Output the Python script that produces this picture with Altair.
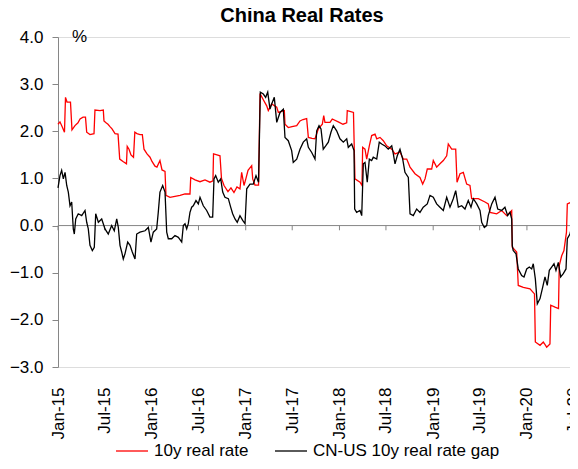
import altair as alt
import pandas as pd

title_text = "China Real Rates"
series_names = ["10y real rate", "CN-US 10y real rate gap"]
series_colors = ["#FF0000", "#000000"]

# (decimal year, %)
real_rate = [
    (2015.000, 2.15), (2015.021, 2.20), (2015.048, 2.08), (2015.069, 1.98), (2015.080, 2.72),
    (2015.096, 2.62), (2015.133, 2.62), (2015.149, 2.03), (2015.181, 2.12), (2015.213, 2.18),
    (2015.235, 2.26), (2015.267, 2.30), (2015.293, 2.30), (2015.306, 1.98), (2015.341, 1.93),
    (2015.384, 1.95), (2015.394, 2.45), (2015.448, 2.44), (2015.483, 2.45), (2015.490, 2.22),
    (2015.512, 2.18), (2015.533, 2.15), (2015.554, 2.10), (2015.576, 2.05), (2015.608, 1.95),
    (2015.640, 1.94), (2015.658, 1.41), (2015.693, 1.36), (2015.730, 1.31), (2015.738, 1.68),
    (2015.757, 1.62), (2015.778, 1.50), (2015.805, 1.45), (2015.819, 1.98), (2015.842, 1.95),
    (2015.874, 1.93), (2015.899, 1.93), (2015.917, 1.62), (2015.949, 1.52), (2015.981, 1.45),
    (2016.002, 1.36), (2016.034, 1.26), (2016.055, 1.24), (2016.087, 1.38), (2016.109, 1.18),
    (2016.141, 1.15), (2016.151, 0.64), (2016.194, 0.60), (2016.247, 0.62), (2016.301, 0.64),
    (2016.354, 0.67), (2016.407, 0.67), (2016.415, 1.02), (2016.461, 0.97), (2016.514, 0.93),
    (2016.567, 0.97), (2016.620, 0.92), (2016.652, 0.95), (2016.658, 1.52), (2016.695, 1.50),
    (2016.727, 1.48), (2016.743, 1.00), (2016.770, 0.85), (2016.812, 0.72), (2016.844, 0.80),
    (2016.876, 0.70), (2016.908, 0.82), (2016.940, 0.78), (2016.958, 1.13), (2016.983, 0.85),
    (2017.004, 1.00), (2017.026, 1.17), (2017.065, 1.27), (2017.076, 0.99), (2017.100, 0.86),
    (2017.138, 0.86), (2017.154, 2.80), (2017.186, 2.68), (2017.225, 2.54), (2017.242, 2.44),
    (2017.278, 2.58), (2017.332, 2.51), (2017.349, 2.40), (2017.413, 2.44), (2017.420, 2.15),
    (2017.455, 2.08), (2017.495, 2.10), (2017.545, 2.12), (2017.580, 2.22), (2017.612, 2.25),
    (2017.651, 2.27), (2017.669, 1.87), (2017.708, 1.85), (2017.740, 1.84), (2017.775, 2.05),
    (2017.818, 2.15), (2017.833, 2.33), (2017.846, 2.19), (2017.900, 2.19), (2017.924, 2.26),
    (2017.988, 2.20), (2018.038, 2.15), (2018.078, 2.18), (2018.084, 2.44), (2018.150, 2.40),
    (2018.166, 0.99), (2018.220, 0.92), (2018.241, 0.85), (2018.248, 1.66), (2018.273, 1.62),
    (2018.291, 1.41), (2018.319, 1.69), (2018.344, 1.91), (2018.380, 1.94), (2018.398, 1.84),
    (2018.433, 1.87), (2018.468, 1.80), (2018.504, 1.69), (2018.558, 1.62), (2018.593, 1.52),
    (2018.646, 1.56), (2018.681, 1.41), (2018.718, 1.41), (2018.753, 1.24), (2018.806, 1.10),
    (2018.859, 1.02), (2018.888, 0.88), (2018.913, 0.99), (2018.937, 1.20), (2018.984, 1.20),
    (2019.001, 1.38), (2019.037, 1.24), (2019.072, 1.31), (2019.108, 1.38), (2019.144, 1.48),
    (2019.161, 1.73), (2019.197, 1.62), (2019.240, 1.62), (2019.254, 0.92), (2019.286, 1.10),
    (2019.321, 1.13), (2019.357, 0.88), (2019.392, 0.85), (2019.410, 0.57), (2019.481, 0.57),
    (2019.552, 0.50), (2019.587, 0.46), (2019.606, 0.28), (2019.677, 0.25), (2019.730, 0.32),
    (2019.784, 0.21), (2019.837, 0.32), (2019.843, -0.46), (2019.890, -0.56), (2019.907, -1.27),
    (2019.961, -1.31), (2020.032, -1.34), (2020.080, -1.45), (2020.089, -2.47), (2020.139, -2.54),
    (2020.174, -2.47), (2020.210, -2.58), (2020.245, -2.51), (2020.253, -1.69), (2020.299, -1.73),
    (2020.336, -1.76), (2020.344, -0.85), (2020.370, -0.64), (2020.394, -0.53), (2020.421, -0.14),
    (2020.430, 0.46), (2020.477, 0.50), (2020.512, 0.57), (2020.533, 0.60),
]

rate_gap = [
    (2015.000, 0.80), (2015.021, 1.06), (2015.039, 1.17), (2015.057, 0.99), (2015.075, 1.13),
    (2015.093, 0.85), (2015.110, 0.71), (2015.128, 0.42), (2015.146, 0.50), (2015.163, -0.07),
    (2015.174, -0.18), (2015.189, 0.14), (2015.216, 0.25), (2015.253, 0.21), (2015.288, 0.32),
    (2015.306, 0.07), (2015.323, -0.07), (2015.341, -0.42), (2015.366, -0.53), (2015.387, -0.46),
    (2015.402, 0.25), (2015.430, 0.07), (2015.466, 0.14), (2015.501, -0.07), (2015.536, -0.18),
    (2015.572, 0.00), (2015.600, -0.11), (2015.626, 0.14), (2015.643, -0.04), (2015.661, -0.42),
    (2015.679, -0.56), (2015.696, -0.71), (2015.714, -0.60), (2015.743, -0.35), (2015.768, -0.42),
    (2015.792, -0.56), (2015.821, -0.71), (2015.839, -0.18), (2015.874, -0.14), (2015.928, -0.11),
    (2015.963, -0.04), (2015.991, -0.35), (2016.016, -0.14), (2016.052, -0.07), (2016.069, 0.28),
    (2016.087, 0.71), (2016.116, 0.85), (2016.141, 0.71), (2016.159, -0.14), (2016.176, -0.28),
    (2016.212, -0.28), (2016.247, -0.21), (2016.283, -0.25), (2016.319, -0.35), (2016.336, 0.00),
    (2016.354, 0.04), (2016.372, -0.07), (2016.389, 0.04), (2016.407, 0.28), (2016.425, 0.39),
    (2016.442, 0.42), (2016.471, 0.53), (2016.496, 0.46), (2016.514, 0.60), (2016.549, 0.42),
    (2016.585, 0.32), (2016.620, 0.18), (2016.649, 0.18), (2016.663, 0.99), (2016.681, 1.06),
    (2016.709, 0.92), (2016.735, 0.99), (2016.756, 0.71), (2016.780, 0.60), (2016.816, 0.57),
    (2016.841, 0.39), (2016.862, 0.25), (2016.887, 0.14), (2016.911, 0.07), (2016.940, 0.21),
    (2016.969, 0.11), (2016.994, 0.04), (2017.012, 0.78), (2017.047, 0.88), (2017.082, 0.88),
    (2017.111, 1.06), (2017.138, 0.92), (2017.157, 2.83), (2017.189, 2.79), (2017.214, 2.72),
    (2017.236, 2.83), (2017.260, 2.47), (2017.278, 2.58), (2017.306, 2.72), (2017.332, 2.19),
    (2017.367, 2.40), (2017.402, 2.47), (2017.420, 1.87), (2017.455, 1.80), (2017.491, 1.59),
    (2017.508, 1.34), (2017.545, 1.41), (2017.580, 1.62), (2017.615, 1.77), (2017.651, 1.84),
    (2017.669, 1.66), (2017.705, 1.55), (2017.740, 1.41), (2017.758, 2.01), (2017.783, 2.12),
    (2017.804, 2.05), (2017.828, 1.62), (2017.854, 1.69), (2017.882, 1.77), (2017.910, 1.98),
    (2017.935, 2.12), (2017.971, 2.01), (2018.006, 1.84), (2018.042, 1.77), (2018.078, 1.84),
    (2018.095, 1.66), (2018.131, 1.73), (2018.156, 1.59), (2018.163, 0.35), (2018.184, 0.28),
    (2018.220, 0.32), (2018.238, 0.21), (2018.255, 1.31), (2018.273, 1.34), (2018.297, 0.92),
    (2018.319, 1.41), (2018.344, 1.38), (2018.361, 1.45), (2018.398, 1.41), (2018.425, 1.77),
    (2018.451, 1.73), (2018.486, 1.69), (2018.521, 1.62), (2018.558, 1.69), (2018.575, 1.52),
    (2018.593, 1.31), (2018.617, 1.48), (2018.646, 1.62), (2018.675, 1.41), (2018.699, 1.13),
    (2018.735, 1.02), (2018.753, 0.25), (2018.788, 0.21), (2018.824, 0.35), (2018.859, 0.28),
    (2018.894, 0.39), (2018.937, 0.46), (2018.966, 0.64), (2019.001, 0.60), (2019.037, 0.46),
    (2019.072, 0.39), (2019.108, 0.32), (2019.144, 0.60), (2019.179, 0.39), (2019.214, 0.57),
    (2019.240, 0.74), (2019.268, 0.39), (2019.304, 0.42), (2019.339, 0.35), (2019.374, 0.53),
    (2019.403, 0.39), (2019.428, 0.57), (2019.464, 0.46), (2019.499, 0.32), (2019.517, 0.07),
    (2019.545, -0.04), (2019.570, 0.00), (2019.587, 0.21), (2019.624, 0.46), (2019.659, 0.60),
    (2019.688, 0.35), (2019.730, 0.32), (2019.765, 0.39), (2019.794, 0.21), (2019.819, 0.28),
    (2019.837, 0.14), (2019.843, -0.42), (2019.853, -0.53), (2019.883, -0.60), (2019.907, -0.92),
    (2019.943, -1.06), (2019.968, -1.09), (2019.997, -0.92), (2020.025, -0.88), (2020.050, -0.92),
    (2020.067, -0.81), (2020.089, -1.13), (2020.110, -1.66), (2020.139, -1.55), (2020.167, -1.31),
    (2020.192, -1.09), (2020.216, -1.27), (2020.238, -0.95), (2020.263, -0.88), (2020.288, -0.81),
    (2020.309, -0.95), (2020.334, -0.78), (2020.359, -1.09), (2020.387, -1.02), (2020.416, -0.92),
    (2020.430, -0.28), (2020.458, -0.18), (2020.487, 0.07), (2020.512, 0.42), (2020.533, 0.60),
]

tick_dates = [
    "2015-01-01", "2015-07-01", "2016-01-01", "2016-07-01", "2017-01-01", "2017-07-01",
    "2018-01-01", "2018-07-01", "2019-01-01", "2019-07-01", "2020-01-01", "2020-07-01",
]
y_ticks = [-3, -2, -1, 0, 1, 2, 3, 4]
x_end = "2020-07-14"

FONT = "Liberation Sans"
AXIS_GREY = "#868686"


def to_stamp(t):
    ts = pd.Timestamp("2015-01-01") + pd.to_timedelta((t - 2015.0) * 365.25, unit="D")
    return ts.strftime("%Y-%m-%dT%H:%M:%S")


rows = []
for name, pts in zip(series_names, [real_rate, rate_gap]):
    for t, v in pts:
        rows.append({"date": to_stamp(t), "value": v, "series": name})
df = pd.DataFrame(rows)

tick_df = pd.DataFrame({"date": [d + "T00:00:00" for d in tick_dates]})
zero_df = pd.DataFrame({"value": [0]})

# the source chart runs slightly past the right edge of the picture
x_scale = alt.Scale(
    domain=[tick_dates[0] + "T00:00:00", x_end + "T00:00:00"], nice=False, range=[0, 519]
)
y_scale = alt.Scale(domain=[y_ticks[0], y_ticks[-1]], nice=False, zero=False)

x_axis = alt.Axis(
    values=[alt.DateTime(year=int(d[:4]), month=int(d[5:7]), date=1) for d in tick_dates],
    format="%b-%y", labelAngle=-90, labelAlign="right", labelBaseline="middle",
    domain=False, ticks=False, grid=False, labelFontSize=17, labelFont=FONT,
    labelColor="#000000", labelPadding=20, title=None, labelOverlap=False,
)
y_axis = alt.Axis(
    values=y_ticks, format=".1f", grid=False, domainColor=AXIS_GREY, tickColor=AXIS_GREY,
    tickSize=6, labelPadding=9, labelFontSize=17, labelFont=FONT, labelColor="#000000",
    title="%", titleAngle=0, titleX=21, titleY=-1, titleAlign="center",
    titleBaseline="middle", titleFontSize=17, titleFontWeight="normal", titleFont=FONT,
    titleColor="#000000",
)

zero_line = alt.Chart(zero_df).mark_rule(color=AXIS_GREY, strokeWidth=1).encode(
    y=alt.Y("value:Q", scale=y_scale, axis=y_axis)
)

tick_marks = alt.Chart(tick_df).mark_rule(color=AXIS_GREY, strokeWidth=1).encode(
    x=alt.X("date:T", scale=x_scale, axis=x_axis),
    y=alt.datum(0),
    y2=alt.datum(-0.1),
)

lines = alt.Chart(df).mark_line(strokeWidth=1.3).encode(
    x=alt.X("date:T", scale=x_scale, axis=x_axis),
    y=alt.Y("value:Q", scale=y_scale, axis=y_axis),
    color=alt.Color(
        "series:N",
        scale=alt.Scale(domain=series_names, range=series_colors),
        legend=alt.Legend(
            orient="none", legendX=57, legendY=397, direction="horizontal", title=None,
            symbolType="stroke", symbolSize=1024, symbolStrokeWidth=1.3,
            labelFontSize=17, labelFont=FONT, labelColor="#000000", labelOffset=5,
            columnPadding=23, padding=0, labelLimit=400,
        ),
    ),
)

chart = (
    alt.layer(zero_line, tick_marks, lines)
    .properties(
        width=512,
        height=330,
        autosize=alt.AutoSizeParams(type="none"),
        padding={"left": 50, "top": 29, "right": 0, "bottom": 94},
        title=alt.TitleParams(
            text=title_text, fontSize=20, fontWeight="bold", font=FONT, color="#000000",
            anchor="middle", frame="group", dx=-12, offset=1,
        ),
    )
    .configure_view(stroke=None)
    .configure(font=FONT)
)

chart.save("out.html", embed_options={"renderer": "svg", "actions": False})
